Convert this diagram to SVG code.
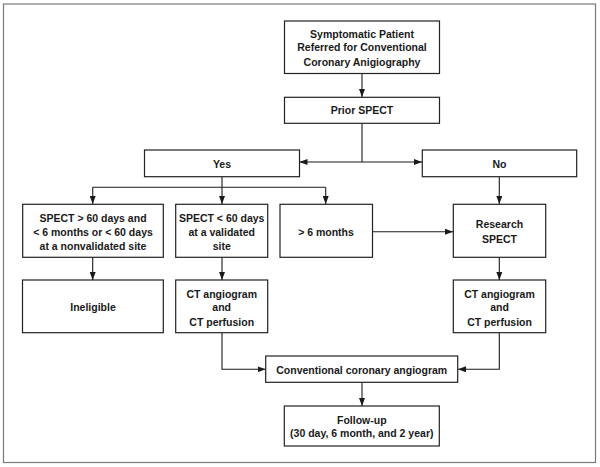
<svg xmlns="http://www.w3.org/2000/svg" width="600" height="467" viewBox="0 0 600 467">
<defs>
<marker id="ah" viewBox="0 0 8 6" refX="8" refY="3" markerWidth="8" markerHeight="6" markerUnits="userSpaceOnUse" orient="auto">
<path d="M0,0 L8,3 L0,6 Z" fill="#1a1a1a"/>
</marker>
<style>
.box{fill:#fff;stroke:#222;stroke-width:1.2}
.t{font-family:"Liberation Sans",Arial,sans-serif;font-weight:bold;font-size:10.5px;fill:#1a1a1a;text-anchor:middle}
.c{fill:none;stroke:#1a1a1a;stroke-width:1.1}
.a{marker-end:url(#ah)}
</style>
</defs>
<rect x="0" y="0" width="600" height="467" fill="#fff"/>
<rect x="3.5" y="4" width="592" height="458.5" fill="none" stroke="#7a7a7a" stroke-width="1.2"/>

<g id="connectors">
<path class="c a" d="M362,73.5 V97"/>
<path class="c" d="M362,123.5 V162"/>
<path class="c a" d="M362,162 H299.5"/>
<path class="c a" d="M362,162 H422"/>
<path class="c" d="M222,177 V187.3 M92.7,187.3 H325.7"/>
<path class="c a" d="M92.7,187.3 V204"/>
<path class="c a" d="M222,187.3 V204"/>
<path class="c a" d="M325.7,187.3 V204"/>
<path class="c a" d="M499.3,177 V204"/>
<path class="c a" d="M372.5,231.7 H453"/>
<path class="c a" d="M92.7,257.5 V280"/>
<path class="c a" d="M222,257.5 V280"/>
<path class="c a" d="M499.3,257.5 V280"/>
<path class="c a" d="M222,333 V369.3 H265.5"/>
<path class="c a" d="M499.3,333 V369.3 H458"/>
<path class="c a" d="M362,382.5 V406"/>
</g>

<g id="n-start">
<rect class="box" x="284.5" y="21" width="155" height="52.5"/>
<text class="t" x="362" y="37.8">Symptomatic Patient</text>
<text class="t" x="362" y="51.3">Referred for Conventional</text>
<text class="t" x="362" y="65.5">Coronary Anigiography</text>
</g>
<g id="n-prior">
<rect class="box" x="284.5" y="97.3" width="155" height="26"/>
<text class="t" x="362" y="114">Prior SPECT</text>
</g>
<g id="n-yes">
<rect class="box" x="144.5" y="150" width="155" height="26.7"/>
<text class="t" x="222" y="167.5">Yes</text>
</g>
<g id="n-no">
<rect class="box" x="422.3" y="150" width="154.4" height="26.7"/>
<text class="t" x="499.5" y="167.5">No</text>
</g>
<g id="n-spect60">
<rect class="box" x="22.7" y="204.3" width="140.6" height="53"/>
<text class="t" x="93" y="221.5">SPECT &gt; 60 days and</text>
<text class="t" x="93" y="236">&lt; 6 months or &lt; 60 days</text>
<text class="t" x="93" y="249.5">at a nonvalidated site</text>
</g>
<g id="n-spectval">
<rect class="box" x="175.7" y="204.3" width="92" height="53"/>
<text class="t" x="221.7" y="221.5">SPECT &lt; 60 days</text>
<text class="t" x="221.7" y="236">at a validated</text>
<text class="t" x="221.7" y="249.5">site</text>
</g>
<g id="n-6months">
<rect class="box" x="280" y="204.3" width="92.5" height="53"/>
<text class="t" x="326" y="235.5">&gt; 6 months</text>
</g>
<g id="n-research">
<rect class="box" x="453.3" y="204.3" width="92.4" height="53"/>
<text class="t" x="499.5" y="227.8">Research</text>
<text class="t" x="499.5" y="242.5">SPECT</text>
</g>
<g id="n-ineligible">
<rect class="box" x="22.5" y="280" width="140.8" height="52.7"/>
<text class="t" x="93" y="310.8">Ineligible</text>
</g>
<g id="n-ct1">
<rect class="box" x="175.7" y="280" width="92" height="52.7"/>
<text class="t" x="221.7" y="297.8">CT angiogram</text>
<text class="t" x="221.7" y="311.2">and</text>
<text class="t" x="221.7" y="325.5">CT perfusion</text>
</g>
<g id="n-ct2">
<rect class="box" x="453.3" y="280" width="92.4" height="52.7"/>
<text class="t" x="499.5" y="297.8">CT angiogram</text>
<text class="t" x="499.5" y="311.2">and</text>
<text class="t" x="499.5" y="325.5">CT perfusion</text>
</g>
<g id="n-conv">
<rect class="box" x="265.7" y="356" width="192" height="26.3"/>
<text class="t" x="361.7" y="373.8">Conventional coronary angiogram</text>
</g>
<g id="n-follow">
<rect class="box" x="284.3" y="406" width="155" height="40"/>
<text class="t" x="361.8" y="423.8">Follow-up</text>
<text class="t" x="361.8" y="437.2">(30 day, 6 month, and 2 year)</text>
</g>
</svg>
